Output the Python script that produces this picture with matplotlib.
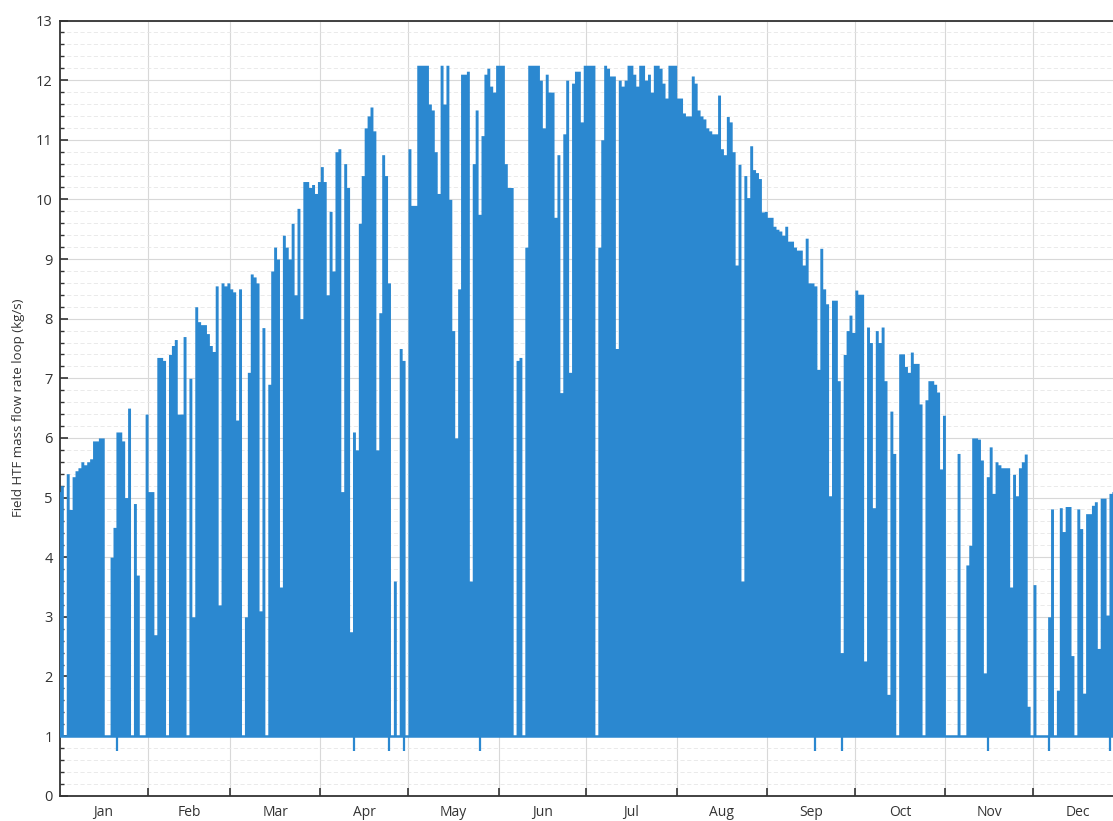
import numpy as np
import matplotlib
matplotlib.use("Agg")
import matplotlib.pyplot as plt
from matplotlib.ticker import MultipleLocator, FixedLocator

# daily peak of the loop flow (kg/s); 1.0 = flow held at minimum all day
jan = [5.1, 5.2, 1, 5.4, 4.8, 5.35, 5.45, 5.5, 5.6, 5.55, 5.6, 5.65, 5.95, 5.95, 6.0, 6.0,
       1, 1, 4.0, 4.5, 6.1, 6.1, 5.95, 5.0, 6.5, 1, 4.9, 3.7, 1, 1, 6.4]
feb = [5.1, 5.1, 2.7, 7.35, 7.35, 7.3, 1, 7.4, 7.55, 7.65, 6.4, 6.4, 7.7, 1, 7.0, 3.0,
       8.2, 7.95, 7.9, 7.9, 7.75, 7.55, 7.45, 8.55, 3.2, 8.6, 8.55, 8.6]
mar = [8.5, 8.45, 6.3, 8.5, 1, 3.0, 7.1, 8.75, 8.7, 8.6, 3.1, 7.85, 1, 6.9, 8.8, 9.2,
       9.0, 3.5, 9.4, 9.2, 9.0, 9.6, 8.4, 9.85, 8.0, 10.3, 10.3, 10.2, 10.25, 10.1, 10.3]
apr = [10.55, 10.3, 8.4, 9.8, 8.8, 10.8, 10.85, 5.1, 10.6, 10.2, 2.75, 6.1, 5.8, 9.6, 10.4,
       11.2, 11.4, 11.55, 11.15, 5.8, 8.1, 10.75, 10.4, 8.6, 1, 3.6, 1, 7.5, 7.3, 1]
may = [10.85, 9.9, 9.9, 12.25, 12.25, 12.25, 12.25, 11.6, 11.5, 10.8, 10.1, 12.25, 11.6,
       12.25, 10.0, 7.8, 6.0, 8.5, 12.1, 12.1, 12.15, 3.6, 10.6, 11.5, 9.75, 11.07, 12.1,
       12.2, 11.9, 11.8, 12.25]
jun = [12.25, 12.25, 10.6, 10.2, 10.2, 1, 7.3, 7.35, 1, 9.2, 12.25, 12.25, 12.25, 12.25,
       12.0, 11.2, 12.1, 11.8, 11.8, 9.7, 10.75, 6.76, 11.1, 12.0, 7.1, 11.95, 12.15, 12.15,
       11.3, 12.25]
jul = [12.25, 12.25, 12.25, 1, 9.2, 11.0, 12.25, 12.2, 12.07, 12.07, 7.5, 12.0, 11.9, 12.0,
       12.25, 12.25, 12.1, 11.9, 12.25, 12.25, 12.0, 12.1, 11.8, 12.25, 12.25, 12.2, 11.95,
       11.7, 12.25, 12.25, 12.25]
aug = [11.7, 11.7, 11.45, 11.4, 11.4, 12.07, 11.95, 11.5, 11.4, 11.35, 11.2, 11.15, 11.1,
       11.1, 11.75, 10.85, 10.75, 11.39, 11.3, 10.8, 8.9, 10.59, 3.6, 10.4, 10.03, 10.9,
       10.5, 10.45, 10.35, 9.79, 9.8]
sep = [9.7, 9.7, 9.55, 9.5, 9.47, 9.4, 9.55, 9.3, 9.3, 9.2, 9.15, 9.15, 8.9, 9.35, 8.6,
       8.6, 8.55, 7.15, 9.18, 8.5, 8.25, 5.03, 8.31, 8.31, 6.96, 2.4, 7.4, 7.8, 8.06, 7.77]
oct_ = [8.48, 8.41, 8.41, 2.26, 7.86, 7.6, 4.83, 7.8, 7.6, 7.86, 6.96, 1.7, 6.45, 5.74, 1,
        7.41, 7.41, 7.2, 7.1, 7.44, 7.25, 7.25, 6.57, 1, 6.64, 6.96, 6.96, 6.9, 6.77, 5.48, 6.38]
nov = [1, 1, 1, 1, 5.74, 1, 1, 3.87, 4.2, 6.0, 6.0, 5.98, 5.63, 2.06, 5.35, 5.85, 5.07,
       5.6, 5.55, 5.5, 5.5, 5.5, 3.5, 5.39, 5.03, 5.5, 5.6, 5.73, 1.5, 1]
dec = [3.54, 1, 1, 1, 1, 3.0, 4.81, 1, 1.77, 4.83, 4.43, 4.85, 4.85, 2.35, 1, 4.81, 4.48,
       1.72, 4.73, 4.73, 4.87, 4.93, 2.47, 4.99, 4.99, 3.03, 5.07, 5.1, 5.0, 4.9, 5.0]

months = ["Jan", "Feb", "Mar", "Apr", "May", "Jun", "Jul", "Aug", "Sep", "Oct", "Nov", "Dec"]
night_flow = 1.0
# days where the flow briefly fell below the minimum
dip_days = [20, 101, 113, 118, 144, 259, 268, 318, 339, 360]
dip_flow = 0.75

series = [jan, feb, mar, apr, may, jun, jul, aug, sep, oct_, nov, dec]
peaks = np.concatenate([np.array(m, dtype=float) for m in series])
month_len = [len(m) for m in series]
bounds = np.concatenate([[0], np.cumsum(month_len)])
mids = (bounds[:-1] + bounds[1:]) / 2

blue = "#2b88d0"
plt.rcParams["font.family"] = ["Open Sans", "DejaVu Sans"]

fig = plt.figure(figsize=(11.13, 8.21), dpi=100)
ax = fig.add_axes([0.0535, 0.0308, 0.956, 0.9442])

x = np.arange(len(peaks) + 1)
y = np.append(peaks, peaks[-1])
ax.fill_between(x, night_flow, y, step="post", color=blue, linewidth=0, zorder=3)
ax.hlines(night_flow, 0, len(peaks), color=blue, linewidth=1.8, zorder=3)
ax.vlines(np.array(dip_days) + 0.5, dip_flow, night_flow, color=blue, linewidth=1.6, zorder=3)

ax.set_xlim(0.7, len(peaks))
ax.set_ylim(0, 13)

ax.xaxis.set_major_locator(FixedLocator(bounds))
ax.xaxis.set_minor_locator(FixedLocator(mids))
ax.set_xticklabels([], minor=False)
ax.set_xticklabels(months, minor=True)
ax.tick_params(axis="x", which="major", direction="in", length=6, width=1.2, color="#333333")
ax.tick_params(axis="x", which="minor", length=0, pad=7, labelsize=10, labelcolor="#333333")

ax.yaxis.set_major_locator(MultipleLocator(1))
ax.yaxis.set_minor_locator(MultipleLocator(0.2))
ax.tick_params(axis="y", which="major", direction="in", length=6, width=1.2, color="#333333",
               labelsize=10.5, labelcolor="#333333", pad=5)
ax.tick_params(axis="y", which="minor", direction="in", length=3, width=1.0, color="#333333")

ax.grid(axis="x", which="major", color="#d8d8d8", linewidth=0.8, zorder=0)
ax.grid(axis="y", which="major", color="#d8d8d8", linewidth=0.8, zorder=0)
ax.grid(axis="y", which="minor", color="#e6e6e6", linewidth=0.6, linestyle=(0, (5, 3)), zorder=0)
ax.set_axisbelow(True)

for side in ["top", "left", "bottom"]:
    ax.spines[side].set_color("#333333")
    ax.spines[side].set_linewidth(1.3)
ax.spines["right"].set_visible(False)

ax.set_ylabel("Field HTF mass flow rate loop (kg/s)", fontsize=9.5, color="#333333", labelpad=8)

fig.savefig("out.png", dpi=100)
